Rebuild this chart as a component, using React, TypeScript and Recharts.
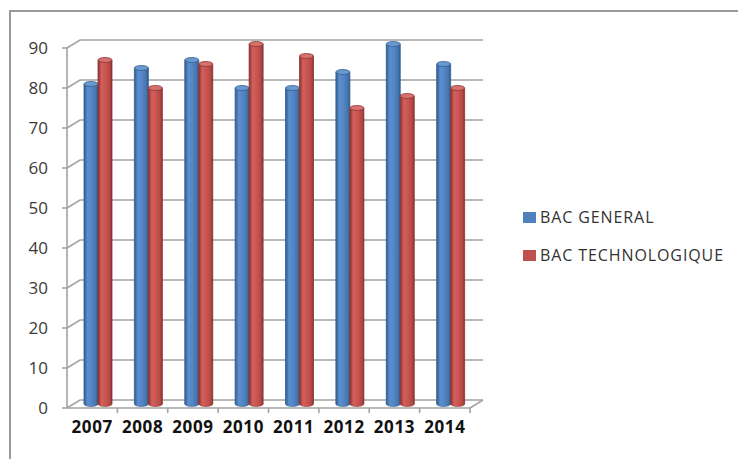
import { BarChart, Bar, XAxis, YAxis, CartesianGrid, Legend } from 'recharts';

const YEARS = ['2007', '2008', '2009', '2010', '2011', '2012', '2013', '2014'];
const BAC_GENERAL = [80, 84, 86, 79, 79, 83, 90, 85];
const BAC_TECHNO = [86, 79, 85, 90, 87, 74, 77, 79];
const Y_TICKS = [0, 10, 20, 30, 40, 50, 60, 70, 80, 90];

const data = YEARS.map((year, i) => ({ year, general: BAC_GENERAL[i], techno: BAC_TECHNO[i] }));

// 3d look: back wall offset and bar depth offset
const WALL_DX = 13;
const WALL_DY = -8;
const BAR_DX = 6;
const BAR_DY = -4;
const BAND = (470 - 67) / YEARS.length;
const GRID = '#a3a3a3';

const SERIES = {
  general: { name: 'BAC GENERAL', base: '#4f81bd', edge: '#35608f', top: '#6a98d0' },
  techno: { name: 'BAC TECHNOLOGIQUE', base: '#c0504d', edge: '#8e3532', top: '#d6716e' },
};

function makeCylinder(key: 'general' | 'techno') {
  return (props: any) => {
    const { x, y, width, height } = props;
    const s = SERIES[key];
    const bx = x + BAR_DX;
    const by = y + BAR_DY;
    const rx = width / 2;
    return (
      <g>
        <ellipse cx={bx + rx} cy={by + height} rx={rx} ry={2.5} fill={`url(#grad-${key})`} stroke={s.edge} strokeWidth={0.6} />
        <rect x={bx} y={by} width={width} height={height} fill={`url(#grad-${key})`} />
        <line x1={bx} y1={by} x2={bx} y2={by + height} stroke={s.edge} strokeWidth={0.8} />
        <line x1={bx + width} y1={by} x2={bx + width} y2={by + height} stroke={s.edge} strokeWidth={0.8} />
        <ellipse cx={bx + rx} cy={by} rx={rx} ry={2.5} fill={s.top} stroke={s.edge} strokeWidth={0.8} />
      </g>
    );
  };
}

function WallLine(props: any) {
  const { x1, y1, x2 } = props;
  const isFloor = Math.abs(y1 - 408) < 1;
  return (
    <g>
      <polyline
        points={`${x1},${y1} ${x1 + WALL_DX},${y1 + WALL_DY} ${x2 + WALL_DX},${y1 + WALL_DY}`}
        fill="none" stroke={GRID} strokeWidth={1.6}
      />
      {isFloor && (
        <line x1={x2} y1={y1} x2={x2 + WALL_DX} y2={y1 + WALL_DY} stroke={GRID} strokeWidth={1.6} />
      )}
    </g>
  );
}

function YearTick(props: any) {
  const { x, y, payload } = props;
  return (
    <g>
      <line x1={x + BAND / 2} y1={y - 6} x2={x + BAND / 2} y2={y - 1} stroke={GRID} strokeWidth={1.6} />
      <text x={x} y={y + 19} textAnchor="middle" fontFamily="Open Sans" fontWeight={700} fontSize={17} letterSpacing={0.6} fill="#111">
        {payload.value}
      </text>
    </g>
  );
}

function LegendBox() {
  return (
    <div style={{ fontFamily: 'Open Sans', fontSize: 16, color: '#333', letterSpacing: 0.9 }}>
      {(['general', 'techno'] as const).map((k, i) => (
        <div key={k} style={{ display: 'flex', alignItems: 'center', height: 20, marginBottom: i === 0 ? 18 : 0 }}>
          <span style={{ display: 'inline-block', width: 13, height: 11, background: SERIES[k].base, marginRight: 4 }} />
          <span>{SERIES[k].name}</span>
        </div>
      ))}
    </div>
  );
}

export default function App() {
  return (
    <div style={{ position: 'fixed', left: 0, top: 0, width: 738, height: 459, overflow: 'hidden', background: '#fff' }}>
      <div style={{ position: 'absolute', left: 9, top: 10, width: 800, height: 500, borderLeft: '2px solid #9a9a9a', borderTop: '2px solid #9a9a9a' }} />
      <div style={{ position: 'absolute', left: 0, top: 0 }}>
        <BarChart width={738} height={459} data={data} barGap={0} margin={{ top: 48, right: 268, bottom: 0, left: 0 }}>
          <defs>
            <linearGradient id="grad-general" x1="0" y1="0" x2="1" y2="0">
              <stop offset="0%" stopColor="#30598a" />
              <stop offset="25%" stopColor="#5b8ece" />
              <stop offset="55%" stopColor="#5386c4" />
              <stop offset="85%" stopColor="#4674ad" />
              <stop offset="100%" stopColor="#2f5686" />
            </linearGradient>
            <linearGradient id="grad-techno" x1="0" y1="0" x2="1" y2="0">
              <stop offset="0%" stopColor="#8a302e" />
              <stop offset="25%" stopColor="#d2605c" />
              <stop offset="55%" stopColor="#c95550" />
              <stop offset="85%" stopColor="#b34845" />
              <stop offset="100%" stopColor="#862e2c" />
            </linearGradient>
          </defs>
          <CartesianGrid vertical={false} horizontal={(p: any) => <WallLine key={p.key ?? `${p.y1}`} {...p} />} />
          <YAxis
            width={67}
            domain={[0, 90]}
            ticks={Y_TICKS}
            interval={0}
            axisLine={{ stroke: GRID, strokeWidth: 1.6 }}
            tickLine={{ stroke: GRID, strokeWidth: 1.6 }}
            tickSize={5}
            tickMargin={14}
            tick={{ fontFamily: 'Open Sans', fontSize: 17, fill: '#3a3a3a' }}
          />
          <XAxis
            dataKey="year"
            height={51}
            interval={0}
            axisLine={{ stroke: GRID, strokeWidth: 1.6 }}
            tickLine={false}
            tickSize={6}
            tickMargin={0}
            tick={<YearTick />}
          />
          <Bar dataKey="general" name={SERIES.general.name} fill={SERIES.general.base} barSize={14} shape={makeCylinder('general')} isAnimationActive={false} />
          <Bar dataKey="techno" name={SERIES.techno.name} fill={SERIES.techno.base} barSize={14} shape={makeCylinder('techno')} isAnimationActive={false} />
          <Legend
            layout="vertical"
            align="center"
            verticalAlign="middle"
            content={<LegendBox />}
            wrapperStyle={{ left: 523, top: 207, width: 215, height: 70 }}
          />
        </BarChart>
      </div>
    </div>
  );
}
